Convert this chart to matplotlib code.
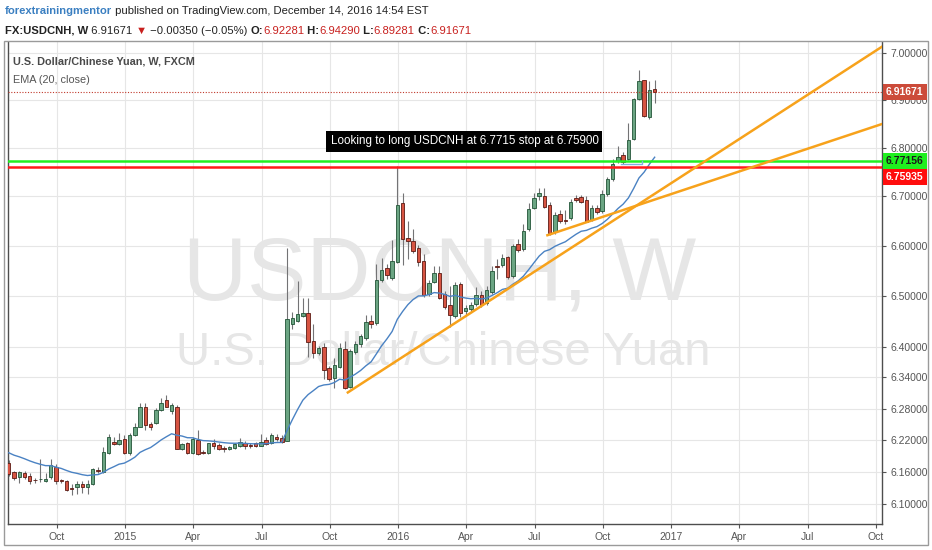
import pandas as pd
import numpy as np
import matplotlib
matplotlib.use('Agg')
import matplotlib.pyplot as plt
import matplotlib.dates as mdates
import matplotlib.font_manager as fm
from matplotlib.patches import Rectangle
from matplotlib.ticker import FixedLocator, NullLocator, FuncFormatter

# weekly USDCNH candles (FXCM), first bar week of Aug 2014
first_week = '2014-08-02'
opens = [6.176, 6.159, 6.150, 6.158, 6.153, 6.145, 6.146, 6.143, 6.151, 6.170,
         6.145, 6.142, 6.129, 6.131, 6.138, 6.131, 6.137, 6.164, 6.159, 6.195,
         6.217, 6.212, 6.222, 6.195, 6.229, 6.245, 6.284, 6.250, 6.252, 6.278,
         6.296, 6.275, 6.284, 6.204, 6.214, 6.195, 6.220, 6.198, 6.195, 6.214,
         6.211, 6.205, 6.204, 6.205, 6.209, 6.215, 6.211, 6.214, 6.209, 6.220,
         6.215, 6.226, 6.223, 6.219, 6.444, 6.451, 6.460, 6.466, 6.410, 6.387,
         6.400, 6.358, 6.338, 6.361, 6.395, 6.321, 6.390, 6.404, 6.416, 6.450,
         6.446, 6.532, 6.555, 6.535, 6.568, 6.687, 6.616, 6.609, 6.595, 6.570,
         6.503, 6.528, 6.545, 6.504, 6.482, 6.460, 6.524, 6.469, 6.474, 6.484,
         6.502, 6.485, 6.507, 6.560, 6.561, 6.577, 6.539, 6.604, 6.593, 6.633,
         6.677, 6.700, 6.700, 6.682, 6.627, 6.664, 6.652, 6.655, 6.697, 6.699,
         6.692, 6.652, 6.677, 6.670, 6.704, 6.736, 6.772, 6.785, 6.776, 6.819,
         6.901, 6.942, 6.865, 6.92281]
highs = [6.182, 6.162, 6.162, 6.162, 6.157, 6.148, 6.184, 6.157, 6.184, 6.175,
         6.147, 6.144, 6.137, 6.143, 6.142, 6.145, 6.168, 6.170, 6.206, 6.231,
         6.225, 6.233, 6.229, 6.234, 6.253, 6.291, 6.291, 6.255, 6.281, 6.300,
         6.306, 6.291, 6.287, 6.215, 6.217, 6.225, 6.240, 6.202, 6.215, 6.222,
         6.215, 6.209, 6.208, 6.215, 6.223, 6.219, 6.215, 6.217, 6.231, 6.225,
         6.234, 6.231, 6.229, 6.595, 6.468, 6.529, 6.495, 6.495, 6.445, 6.402,
         6.406, 6.362, 6.377, 6.406, 6.410, 6.396, 6.410, 6.425, 6.462, 6.462,
         6.564, 6.575, 6.564, 6.611, 6.762, 6.707, 6.650, 6.634, 6.601, 6.583,
         6.531, 6.560, 6.560, 6.510, 6.520, 6.527, 6.528, 6.482, 6.488, 6.517,
         6.510, 6.520, 6.560, 6.573, 6.583, 6.579, 6.603, 6.614, 6.644, 6.687,
         6.707, 6.717, 6.717, 6.688, 6.668, 6.673, 6.673, 6.694, 6.702, 6.702,
         6.700, 6.682, 6.683, 6.713, 6.739, 6.776, 6.803, 6.791, 6.852, 6.903,
         6.964, 6.943, 6.939, 6.94290]
lows = [6.153, 6.145, 6.140, 6.147, 6.138, 6.140, 6.141, 6.141, 6.147, 6.137,
        6.139, 6.124, 6.116, 6.118, 6.120, 6.119, 6.136, 6.158, 6.158, 6.194,
        6.210, 6.210, 6.193, 6.191, 6.228, 6.244, 6.240, 6.240, 6.250, 6.275,
        6.283, 6.270, 6.203, 6.202, 6.194, 6.193, 6.191, 6.194, 6.194, 6.203,
        6.202, 6.198, 6.202, 6.203, 6.206, 6.204, 6.205, 6.206, 6.208, 6.210,
        6.213, 6.219, 6.215, 6.218, 6.434, 6.448, 6.458, 6.380, 6.377, 6.383,
        6.336, 6.334, 6.319, 6.358, 6.317, 6.319, 6.386, 6.400, 6.412, 6.437,
        6.443, 6.527, 6.533, 6.531, 6.566, 6.562, 6.573, 6.585, 6.560, 6.497,
        6.499, 6.525, 6.494, 6.474, 6.439, 6.455, 6.458, 6.462, 6.468, 6.480,
        6.478, 6.482, 6.504, 6.533, 6.557, 6.533, 6.535, 6.587, 6.589, 6.629,
        6.674, 6.693, 6.676, 6.621, 6.623, 6.646, 6.643, 6.652, 6.688, 6.686,
        6.647, 6.649, 6.665, 6.667, 6.700, 6.732, 6.768, 6.766, 6.774, 6.817,
        6.899, 6.864, 6.859, 6.89281]
closes = [6.156, 6.148, 6.159, 6.150, 6.142, 6.144, 6.147, 6.147, 6.172, 6.142,
          6.143, 6.126, 6.127, 6.138, 6.131, 6.138, 6.165, 6.161, 6.197, 6.225,
          6.212, 6.220, 6.195, 6.230, 6.245, 6.284, 6.249, 6.245, 6.278, 6.291,
          6.284, 6.286, 6.204, 6.212, 6.195, 6.222, 6.194, 6.196, 6.214, 6.209,
          6.204, 6.203, 6.206, 6.212, 6.217, 6.208, 6.208, 6.209, 6.217, 6.212,
          6.230, 6.222, 6.217, 6.453, 6.455, 6.463, 6.466, 6.409, 6.387, 6.398,
          6.354, 6.337, 6.364, 6.397, 6.320, 6.391, 6.404, 6.421, 6.448, 6.444,
          6.532, 6.552, 6.541, 6.569, 6.682, 6.614, 6.610, 6.589, 6.567, 6.501,
          6.525, 6.545, 6.496, 6.477, 6.461, 6.522, 6.466, 6.475, 6.481, 6.502,
          6.482, 6.512, 6.549, 6.558, 6.575, 6.537, 6.599, 6.592, 6.629, 6.674,
          6.696, 6.707, 6.679, 6.625, 6.662, 6.649, 6.650, 6.688, 6.692, 6.688,
          6.648, 6.677, 6.669, 6.704, 6.735, 6.766, 6.780, 6.770, 6.817, 6.901,
          6.940, 6.866, 6.921, 6.91671]
ema_start = 6.196   # EMA(20) value at the first visible bar

# drawn levels and trend lines
entry_level = 6.77156
stop_level = 6.75935
last_price = 6.91671
stop_label_at = 6.7395   # stop label sits just below the entry label on the axis
trend1_dates = ['2015-10-28', '2017-10-12']
trend1_prices = [6.311, 7.016]
trend2_dates = ['2016-07-20', '2017-10-12']
trend2_prices = [6.621, 6.851]
bracket_dates = ['2016-10-26', '2016-11-23', '2016-11-23']
bracket_prices = [6.767, 6.767, 6.772]

y_ticks = [6.10, 6.16, 6.22, 6.28, 6.34, 6.40, 6.50, 6.60, 6.70, 6.80, 6.90, 7.00]
x_tick_dates = ['2014-10-05', '2015-01-04', '2015-04-05', '2015-07-05', '2015-10-04',
                '2016-01-03', '2016-04-03', '2016-07-03', '2016-10-02', '2017-01-01',
                '2017-04-02', '2017-07-02', '2017-10-01']
x_tick_labels = ['Oct', '2015', 'Apr', 'Jul', 'Oct', '2016', 'Apr', 'Jul', 'Oct',
                 '2017', 'Apr', 'Jul', 'Oct']

# fonts
names = {f.name for f in fm.fontManager.ttflist}
plt.rcParams['font.family'] = ['Liberation Sans', 'DejaVu Sans']
narrow = 'Liberation Sans Narrow' in names

# derived values
dates = mdates.date2num(pd.date_range(first_week, periods=len(closes), freq='7D'))
o = np.array(opens)
h = np.array(highs)
l = np.array(lows)
c = np.array(closes)
alpha = 2 / 21
ema = [ema_start]
for v in c[1:]:
    ema.append(alpha * v + (1 - alpha) * ema[-1])

fig = plt.figure(figsize=(9.32, 5.5), dpi=100)
W, H = 932, 550
ax = fig.add_axes([8 / W, 26 / H, 874 / W, 482 / H])

# outer frame
fig.add_artist(Rectangle((4 / W, 5 / H), 924 / W, 504 / H, transform=fig.transFigure,
                         fill=False, ec='#9a9a9a', lw=1))

ax.set_yscale('log')
ax.set_ylim(6.0628, 7.0229)
ax.set_xlim(mdates.datestr2num('2014-08-01'), mdates.datestr2num('2017-10-09'))

# grid and ticks
ax.yaxis.set_major_locator(FixedLocator(y_ticks))
ax.yaxis.set_minor_locator(NullLocator())
ax.yaxis.set_major_formatter(FuncFormatter(lambda v, p: f'{v:.5f}'))
ax.set_xticks(mdates.datestr2num(x_tick_dates))
ax.set_xticklabels(x_tick_labels)
ax.grid(True, color='#e6e6e6', lw=0.8, zorder=0)
ax.set_axisbelow(True)
ax.yaxis.tick_right()
ax.tick_params(axis='both', colors='#555555', labelsize=7.5, length=3, width=0.8)
ax.tick_params(axis='y', pad=3)
ax.tick_params(axis='x', pad=3)
ax.spines['top'].set_visible(False)
for s in ['left', 'bottom', 'right']:
    ax.spines[s].set_color('#4d4d4d')
    ax.spines[s].set_linewidth(1)

# watermark
wm = dict(transform=ax.transAxes, ha='center', va='baseline', color='#e6e6e6', zorder=0.5)
if narrow:
    ax.text(0.494, 0.465, 'USDCNH, W', fontsize=76, family='Liberation Sans Narrow', **wm)
    ax.text(0.498, 0.330, 'U.S. Dollar/Chinese Yuan', fontsize=40,
            family='Liberation Sans Narrow', **wm)
else:
    ax.text(0.494, 0.465, 'USDCNH, W', fontsize=64, **wm)
    ax.text(0.498, 0.330, 'U.S. Dollar/Chinese Yuan', fontsize=34, **wm)

# candles
width = 4.6
up = c >= o
ax.vlines(dates, l, h, color='#737375', lw=0.8, zorder=2)
body_lo = np.minimum(o, c)
body_h = np.maximum(np.abs(c - o), 0.0008)
ax.bar(dates[up], body_h[up], bottom=body_lo[up], width=width, color='#6ba583',
       edgecolor='#225437', lw=0.6, zorder=3)
ax.bar(dates[~up], body_h[~up], bottom=body_lo[~up], width=width, color='#d75442',
       edgecolor='#5b1a13', lw=0.6, zorder=3)

# EMA
ax.plot(dates, ema, color='#4a82c3', lw=1, zorder=4)

# levels
ax.axhline(entry_level, color='#22ee22', lw=1.8, zorder=5)
ax.axhline(stop_level, color='#ff1a1a', lw=1.8, zorder=5)
ax.axhline(last_price, color='#c0392b', lw=0.8, ls=(0, (1, 1.5)), zorder=5)

# trend lines
ax.plot(mdates.datestr2num(trend1_dates), trend1_prices, color='#f7a21b', lw=1.8, zorder=5)
ax.plot(mdates.datestr2num(trend2_dates), trend2_prices, color='#f7a21b', lw=1.8, zorder=5)
ax.plot(mdates.datestr2num(bracket_dates), bracket_prices, color='#7fb0e0', lw=1, zorder=5)

# note
ax.text(0.369, 0.7936, 'Looking to long USDCNH at 6.7715 stop at 6.75900', transform=ax.transAxes,
        ha='left', va='center', fontsize=8.4, color='white', zorder=6,
        bbox=dict(boxstyle='square,pad=0.35', fc='black', ec='none'))

# price labels on the axis
yt = ax.get_yaxis_transform()
for val, pos, fc, tc in [(last_price, last_price, '#cc4b3a', 'white'),
                         (entry_level, entry_level, '#1ff01f', '#1a1a1a'),
                         (stop_level, stop_label_at, '#ff0d0d', 'white')]:
    ax.text(1.0 + 4 / 874, pos, f'{val:.5f}', transform=yt, ha='left', va='center',
            fontsize=7.5, fontweight='bold', color=tc, zorder=7, clip_on=False,
            bbox=dict(boxstyle='square,pad=0.3', fc=fc, ec='none'))

# chart legend
ax.text(5 / 874, 1 - 20 / 482, 'U.S. Dollar/Chinese Yuan, W, FXCM', transform=ax.transAxes,
        ha='left', va='center', fontsize=7.8, fontweight='bold', color='#4a4a4a', zorder=7)
ax.text(5 / 874, 1 - 38 / 482, 'EMA (20, close)', transform=ax.transAxes,
        ha='left', va='center', fontsize=7.8, color='#555555', zorder=7)


# header lines, pieces chained left to right
def chain(first, pieces, size):
    prev = first
    for s, color, weight in pieces:
        prev = ax.annotate(s, xy=(1, 0), xycoords=prev, ha='left', va='bottom',
                           fontsize=size, color=color, fontweight=weight, annotation_clip=False)
    return prev


hs = 8.1
t1 = fig.text(5 / W, 1 - 11.5 / H, 'forextrainingmentor', ha='left', va='center',
              fontsize=hs, color='#3a7fc1', fontweight='bold')
chain(t1, [(' published on TradingView.com, December 14, 2016 14:54 EST', '#222222', 'normal')], hs)

t2 = fig.text(5 / W, 1 - 30.5 / H, 'FX:USDCNH, W', ha='left', va='center',
              fontsize=hs, color='#222222', fontweight='bold')
red = '#c8201e'
chain(t2, [(' 6.91671 ', '#222222', 'normal'), ('\u25bc', red, 'normal'),
           (' \u22120.00350 (\u22120.05%) ', '#222222', 'normal'),
           ('O:', '#222222', 'bold'), ('6.92281', red, 'normal'),
           (' H:', '#222222', 'bold'), ('6.94290', red, 'normal'),
           (' L:', '#222222', 'bold'), ('6.89281', red, 'normal'),
           (' C:', '#222222', 'bold'), ('6.91671', red, 'normal')], hs)

fig.savefig('out.png', dpi=100, facecolor='white')
